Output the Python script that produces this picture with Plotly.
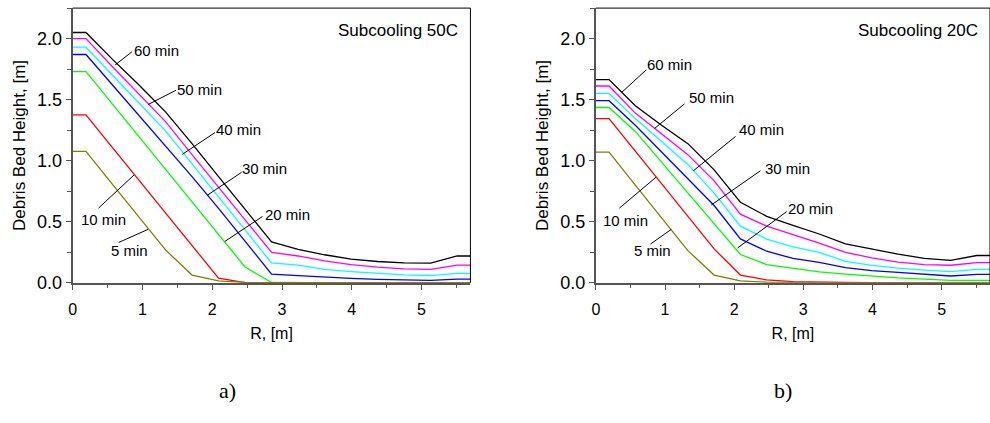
import plotly.graph_objects as go

# ---------------- data ----------------
R = [0, 0.19, 0.57, 0.95, 1.33, 1.71, 2.09, 2.47, 2.85, 3.23, 3.61, 3.99, 4.37, 4.75, 5.13, 5.51, 5.7]

# a) Subcooling 50C
h60_a = [2.05, 2.05, 1.83, 1.62, 1.40, 1.14, 0.87, 0.60, 0.335, 0.275, 0.23, 0.195, 0.175, 0.163, 0.162, 0.22, 0.22]
h50_a = [2.00, 2.00, 1.77, 1.545, 1.32, 1.05, 0.785, 0.52, 0.25, 0.22, 0.18, 0.15, 0.128, 0.115, 0.11, 0.145, 0.145]
h40_a = [1.93, 1.93, 1.70, 1.47, 1.245, 0.975, 0.705, 0.435, 0.163, 0.145, 0.11, 0.092, 0.078, 0.065, 0.06, 0.078, 0.078]
h30_a = [1.87, 1.87, 1.62, 1.37, 1.12, 0.87, 0.61, 0.34, 0.072, 0.059, 0.046, 0.036, 0.028, 0.023, 0.021, 0.03, 0.03]
h20_a = [1.73, 1.73, 1.463, 1.197, 0.93, 0.663, 0.397, 0.13, 0.003, 0.0, 0.0, 0.0, 0.0, 0.0, 0.0, 0.0, 0.0]
h10_a = [1.375, 1.375, 1.108, 0.84, 0.573, 0.306, 0.038, 0.002, 0.0, 0.0, 0.0, 0.0, 0.0, 0.0, 0.0, 0.0, 0.0]
h5_a = [1.076, 1.076, 0.807, 0.539, 0.27, 0.064, 0.016, 0.003, 0.0, 0.0, 0.0, 0.0, 0.0, 0.0, 0.0, 0.0, 0.0]

# b) Subcooling 20C
h60_b = [1.665, 1.665, 1.45, 1.29, 1.14, 0.925, 0.66, 0.545, 0.47, 0.40, 0.32, 0.275, 0.235, 0.20, 0.184, 0.224, 0.224]
h50_b = [1.612, 1.612, 1.39, 1.22, 1.05, 0.835, 0.563, 0.464, 0.395, 0.325, 0.25, 0.205, 0.17, 0.15, 0.144, 0.166, 0.166]
h40_b = [1.551, 1.551, 1.345, 1.16, 0.97, 0.735, 0.464, 0.358, 0.295, 0.25, 0.175, 0.143, 0.12, 0.104, 0.092, 0.11, 0.11]
h30_b = [1.492, 1.492, 1.29, 1.07, 0.855, 0.633, 0.36, 0.259, 0.20, 0.168, 0.125, 0.10, 0.085, 0.07, 0.056, 0.07, 0.07]
h20_b = [1.436, 1.436, 1.24, 0.99, 0.74, 0.49, 0.232, 0.15, 0.12, 0.09, 0.072, 0.055, 0.04, 0.03, 0.02, 0.02, 0.02]
h10_b = [1.345, 1.345, 1.078, 0.81, 0.545, 0.278, 0.064, 0.024, 0.01, 0.005, 0.003, 0.002, 0.001, 0.0, 0.0, 0.0, 0.0]
h5_b = [1.07, 1.07, 0.80, 0.53, 0.264, 0.064, 0.016, 0.005, 0.001, 0.0, 0.0, 0.0, 0.0, 0.0, 0.0, 0.0, 0.0]

series_names = ["60 min", "50 min", "40 min", "30 min", "20 min", "10 min", "5 min"]
series_a = [h60_a, h50_a, h40_a, h30_a, h20_a, h10_a, h5_a]
series_b = [h60_b, h50_b, h40_b, h30_b, h20_b, h10_b, h5_b]
colors = ["#000000", "#FF00FF", "#00FFFF", "#0000FF", "#00FF00", "#FF0000", "#808000"]

panel_titles = ["Subcooling 50C", "Subcooling 20C"]
panel_letters = ["a)", "b)"]

# label positions (text centre, pointer start, pointer end) in data units
labels_a = {
    "60 min": ((1.20, 1.90), (0.61, 1.785), (0.85, 1.893)),
    "50 min": ((1.82, 1.585), (1.08, 1.46), (1.48, 1.577)),
    "40 min": ((2.37, 1.257), (1.57, 1.052), (2.04, 1.231)),
    "30 min": ((2.75, 0.94), (1.93, 0.718), (2.42, 0.905)),
    "20 min": ((3.08, 0.558), (2.18, 0.339), (2.72, 0.544)),
    "10 min": ((0.44, 0.518), (0.37, 0.612), (0.88, 0.884)),
    "5 min": ((0.82, 0.264), (0.66, 0.331), (1.08, 0.438)),
}
labels_b = {
    "60 min": ((1.06, 1.785), (0.37, 1.558), (0.73, 1.745)),
    "50 min": ((1.67, 1.519), (0.85, 1.265), (1.28, 1.465)),
    "40 min": ((2.40, 1.257), (1.41, 0.918), (2.02, 1.199)),
    "30 min": ((2.77, 0.94), (1.67, 0.638), (2.38, 0.918)),
    "20 min": ((3.10, 0.612), (2.05, 0.286), (2.76, 0.584)),
    "10 min": ((0.43, 0.51), (0.34, 0.612), (0.87, 0.865)),
    "5 min": ((0.82, 0.264), (0.79, 0.318), (1.09, 0.438)),
}

# ---------------- figure ----------------
W, H = 990, 423
FONT = "Liberation Sans, Arial, sans-serif"

fig = go.Figure()
for i, (series, xa, ya) in enumerate([(series_a, "x", "y"), (series_b, "x2", "y2")]):
    for name, vals, col in zip(series_names, series, colors):
        fig.add_trace(go.Scatter(x=R, y=vals, mode="lines", name=name,
                                 line=dict(color=col, width=1.3),
                                 xaxis=xa, yaxis=ya, showlegend=False,
                                 hoverinfo="skip"))

ydom = [1 - 289.7 / H, 1 - 8.3 / H]
xdom1 = [69 / W, 468.3 / W]
xdom2 = [594.3 / W, 1.0]

def xaxis_cfg(dom, anchor):
    return dict(domain=dom, anchor=anchor, range=[0, 5.7], dtick=1, tick0=0,
                showgrid=False, zeroline=False, showline=True, linecolor="#555555",
                linewidth=2, ticks="outside", ticklen=5, tickwidth=1, tickcolor="#555555",
                minor=dict(dtick=0.5, ticks="outside", ticklen=3, tickcolor="#555555"),
                tickfont=dict(family=FONT, size=16, color="black"), ticklabelstandoff=6,
                title=dict(text="R, [m]", font=dict(family=FONT, size=16, color="black"), standoff=11),
                layer="below traces", fixedrange=True)

def yaxis_cfg(anchor):
    return dict(domain=ydom, anchor=anchor, range=[0, 2.25], dtick=0.5, tick0=0,
                tickformat=".1f", showgrid=False, zeroline=False, showline=True,
                linecolor="#555555", linewidth=2, ticks="outside", ticklen=5, tickwidth=1,
                tickcolor="#555555",
                minor=dict(dtick=0.25, ticks="outside", ticklen=4, tickcolor="#555555"),
                tickfont=dict(family=FONT, size=18, color="black"),
                title=dict(text="Debris Bed Height, [m]", font=dict(family=FONT, size=17, color="black"), standoff=7),
                layer="below traces", fixedrange=True)

fig.update_layout(
    width=W, height=H, margin=dict(l=0, r=0, t=0, b=0),
    paper_bgcolor="white", plot_bgcolor="white",
    xaxis=xaxis_cfg(xdom1, "y"), yaxis=yaxis_cfg("x"),
    xaxis2=xaxis_cfg(xdom2, "y2"), yaxis2=yaxis_cfg("x2"),
)

shapes = []
annotations = []
for k, (xr, yr, labels, title, letter, dom) in enumerate([
        ("x", "y", labels_a, panel_titles[0], panel_letters[0], xdom1),
        ("x2", "y2", labels_b, panel_titles[1], panel_letters[1], xdom2)]):
    # top and right frame lines (thin black)
    shapes.append(dict(type="line", xref=xr + " domain", yref=yr + " domain",
                       x0=0, x1=1, y0=1, y1=1, line=dict(color="black", width=1)))
    shapes.append(dict(type="line", xref=xr + " domain", yref=yr + " domain",
                       x0=1, x1=1, y0=0, y1=1, line=dict(color="black", width=1)))
    for name, (tpos, p0, p1) in labels.items():
        shapes.append(dict(type="line", xref=xr, yref=yr, x0=p0[0], y0=p0[1],
                           x1=p1[0], y1=p1[1], line=dict(color="black", width=1)))
        annotations.append(dict(text=name, x=tpos[0], y=tpos[1], xref=xr, yref=yr,
                                showarrow=False, xanchor="center", yanchor="middle",
                                font=dict(family=FONT, size=15, color="black")))
    annotations.append(dict(text=title, x=0.975, y=0.92, xref=xr + " domain", yref=yr + " domain",
                            showarrow=False, xanchor="right", yanchor="middle",
                            font=dict(family=FONT, size=17, color="black")))
    cx = 224 if k == 0 else 782
    annotations.append(dict(text=letter, x=cx / W, y=1 - 400 / H, xref="paper", yref="paper",
                            showarrow=False, xanchor="center", yanchor="middle",
                            font=dict(family="Liberation Serif, Times New Roman, serif", size=22, color="black")))

fig.update_layout(shapes=shapes, annotations=annotations)
fig.write_html("out.html", config={"displayModeBar": False, "staticPlot": True},
               post_script="document.body.style.margin='0';document.body.style.overflow='hidden';")
